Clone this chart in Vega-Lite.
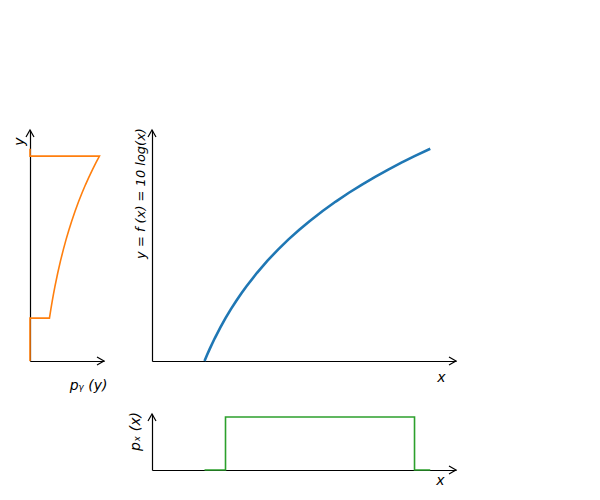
{
  "$schema": "https://vega.github.io/schema/vega-lite/v6.json",
  "padding": {"left": 12, "top": 127, "right": 5, "bottom": 5},
  "columns": 2,
  "spacing": {"row": 53, "column": 48},
  "bounds": "flush",
  "config": {
    "view": {"stroke": null},
    "axis": {
      "domain": true, "domainColor": "#000000", "domainWidth": 1.2,
      "ticks": false, "labels": false, "grid": false,
      "titleFont": "DejaVu Sans", "titleFontSize": 14, "titleFontWeight": "normal",
      "titleFontStyle": "italic", "titleColor": "#000000", "titlePadding": 0
    },
    "point": {"filled": false, "opacity": 1, "stroke": "#000000", "strokeWidth": 1.2, "size": 64}
  },
  "datasets": {
    "curve": [
      {"i": 0, "x": 1.0, "y": 0.0},
      {"i": 1, "x": 1.05, "y": 0.488},
      {"i": 2, "x": 1.1, "y": 0.953},
      {"i": 3, "x": 1.15, "y": 1.398},
      {"i": 4, "x": 1.2, "y": 1.823},
      {"i": 5, "x": 1.3, "y": 2.624},
      {"i": 6, "x": 1.4, "y": 3.365},
      {"i": 7, "x": 1.5, "y": 4.055},
      {"i": 8, "x": 1.6, "y": 4.7},
      {"i": 9, "x": 1.7, "y": 5.306},
      {"i": 10, "x": 1.8, "y": 5.878},
      {"i": 11, "x": 2.0, "y": 6.931},
      {"i": 12, "x": 2.2, "y": 7.885},
      {"i": 13, "x": 2.4, "y": 8.755},
      {"i": 14, "x": 2.6, "y": 9.555},
      {"i": 15, "x": 2.8, "y": 10.296},
      {"i": 16, "x": 3.0, "y": 10.986},
      {"i": 17, "x": 3.25, "y": 11.787},
      {"i": 18, "x": 3.5, "y": 12.528},
      {"i": 19, "x": 3.75, "y": 13.218},
      {"i": 20, "x": 4.0, "y": 13.863},
      {"i": 21, "x": 4.25, "y": 14.469},
      {"i": 22, "x": 4.5, "y": 15.041},
      {"i": 23, "x": 4.75, "y": 15.581},
      {"i": 24, "x": 5.0, "y": 16.094},
      {"i": 25, "x": 5.3, "y": 16.677}
    ],
    "py": [
      {"i": 0, "p": 0, "y": 0},
      {"i": 1, "p": 0, "y": 3.365},
      {"i": 2, "p": 0.03889, "y": 3.365},
      {"i": 3, "p": 0.04167, "y": 4.055},
      {"i": 4, "p": 0.04444, "y": 4.7},
      {"i": 5, "p": 0.04722, "y": 5.306},
      {"i": 6, "p": 0.05, "y": 5.878},
      {"i": 7, "p": 0.05556, "y": 6.931},
      {"i": 8, "p": 0.06111, "y": 7.885},
      {"i": 9, "p": 0.06667, "y": 8.755},
      {"i": 10, "p": 0.07222, "y": 9.555},
      {"i": 11, "p": 0.07778, "y": 10.296},
      {"i": 12, "p": 0.08333, "y": 10.986},
      {"i": 13, "p": 0.09028, "y": 11.787},
      {"i": 14, "p": 0.09722, "y": 12.528},
      {"i": 15, "p": 0.10417, "y": 13.218},
      {"i": 16, "p": 0.11111, "y": 13.863},
      {"i": 17, "p": 0.11806, "y": 14.469},
      {"i": 18, "p": 0.125, "y": 15.041},
      {"i": 19, "p": 0.13194, "y": 15.581},
      {"i": 20, "p": 0.13889, "y": 16.094},
      {"i": 21, "p": 0, "y": 16.094},
      {"i": 22, "p": 0, "y": 16.677}
    ],
    "px": [
      {"i": 0, "x": 1.0, "p": 0},
      {"i": 1, "x": 1.4, "p": 0},
      {"i": 2, "x": 1.4, "p": 0.2778},
      {"i": 3, "x": 5.0, "p": 0.2778},
      {"i": 4, "x": 5.0, "p": 0},
      {"i": 5, "x": 5.3, "p": 0}
    ],
    "arrows_left": [
      {"p": 0, "y": 18.15, "dir": "up"},
      {"p": 0.148, "y": 0, "dir": "right"}
    ],
    "arrows_main": [
      {"x": 0, "y": 18.15, "dir": "up"},
      {"x": 5.79, "y": 0, "dir": "right"}
    ],
    "arrows_bottom": [
      {"x": 0, "p": 0.2935, "dir": "up"},
      {"x": 5.79, "p": 0, "dir": "right"}
    ]
  },
  "concat": [
    {
      "width": 74, "height": 231,
      "layer": [
        {
          "data": {"name": "py"},
          "mark": {"type": "line", "color": "#ff7f0e", "strokeWidth": 1.6},
          "encoding": {
            "x": {"field": "p", "type": "quantitative", "scale": {"domain": [0, 0.148], "nice": false, "zero": false},
                  "axis": {"title": "pᵧ (y)", "titleX": 58, "titleY": 24, "titleAlign": "center", "titleBaseline": "middle", "titleAngle": 0}},
            "y": {"field": "y", "type": "quantitative", "scale": {"domain": [0, 18.15], "nice": false, "zero": false},
                  "axis": {"title": "y", "titleX": -11, "titleY": 11, "titleAlign": "center", "titleBaseline": "middle", "titleAngle": 270}},
            "order": {"field": "i", "type": "quantitative"}
          }
        },
        {
          "data": {"name": "arrows_left"},
          "mark": {"type": "point"},
          "encoding": {
            "x": {"field": "p", "type": "quantitative"},
            "y": {"field": "y", "type": "quantitative"},
            "shape": {"field": "dir", "type": "nominal", "legend": null,
                      "scale": {"domain": ["up", "right"], "range": ["M-1,1.75L0,0L1,1.75", "M-1.75,-1L0,0L-1.75,1"]}}
          }
        }
      ]
    },
    {
      "width": 304, "height": 231,
      "layer": [
        {
          "data": {"name": "curve"},
          "mark": {"type": "line", "color": "#1f77b4", "strokeWidth": 2.6},
          "encoding": {
            "x": {"field": "x", "type": "quantitative", "scale": {"domain": [0, 5.79], "nice": false, "zero": false},
                  "axis": {"title": "x", "titleX": 289, "titleY": 16, "titleAlign": "center", "titleBaseline": "middle", "titleAngle": 0}},
            "y": {"field": "y", "type": "quantitative", "scale": {"domain": [0, 18.15], "nice": false, "zero": false},
                  "axis": {"title": "y = f (x) = 10 log(x)", "titleFontSize": 13, "titleX": -12, "titleY": 63, "titleAlign": "center", "titleBaseline": "middle", "titleAngle": 270}},
            "order": {"field": "i", "type": "quantitative"}
          }
        },
        {
          "data": {"name": "arrows_main"},
          "mark": {"type": "point"},
          "encoding": {
            "x": {"field": "x", "type": "quantitative"},
            "y": {"field": "y", "type": "quantitative"},
            "shape": {"field": "dir", "type": "nominal", "legend": null,
                      "scale": {"domain": ["up", "right"], "range": ["M-1,1.75L0,0L1,1.75", "M-1.75,-1L0,0L-1.75,1"]}}
          }
        }
      ]
    },
    {
      "width": 74, "height": 56,
      "data": {"values": []},
      "mark": {"type": "point", "opacity": 0}
    },
    {
      "width": 304, "height": 56,
      "layer": [
        {
          "data": {"name": "px"},
          "mark": {"type": "line", "color": "#2ca02c", "strokeWidth": 1.6},
          "encoding": {
            "x": {"field": "x", "type": "quantitative", "scale": {"domain": [0, 5.79], "nice": false, "zero": false},
                  "axis": {"title": "x", "titleX": 288, "titleY": 10, "titleAlign": "center", "titleBaseline": "middle", "titleAngle": 0}},
            "y": {"field": "p", "type": "quantitative", "scale": {"domain": [0, 0.2935], "nice": false, "zero": false},
                  "axis": {"title": "pₓ (x)", "titleX": -17, "titleY": 17, "titleAlign": "center", "titleBaseline": "middle", "titleAngle": 270}},
            "order": {"field": "i", "type": "quantitative"}
          }
        },
        {
          "data": {"name": "arrows_bottom"},
          "mark": {"type": "point"},
          "encoding": {
            "x": {"field": "x", "type": "quantitative"},
            "y": {"field": "p", "type": "quantitative"},
            "shape": {"field": "dir", "type": "nominal", "legend": null,
                      "scale": {"domain": ["up", "right"], "range": ["M-1,1.75L0,0L1,1.75", "M-1.75,-1L0,0L-1.75,1"]}}
          }
        }
      ]
    }
  ]
}
